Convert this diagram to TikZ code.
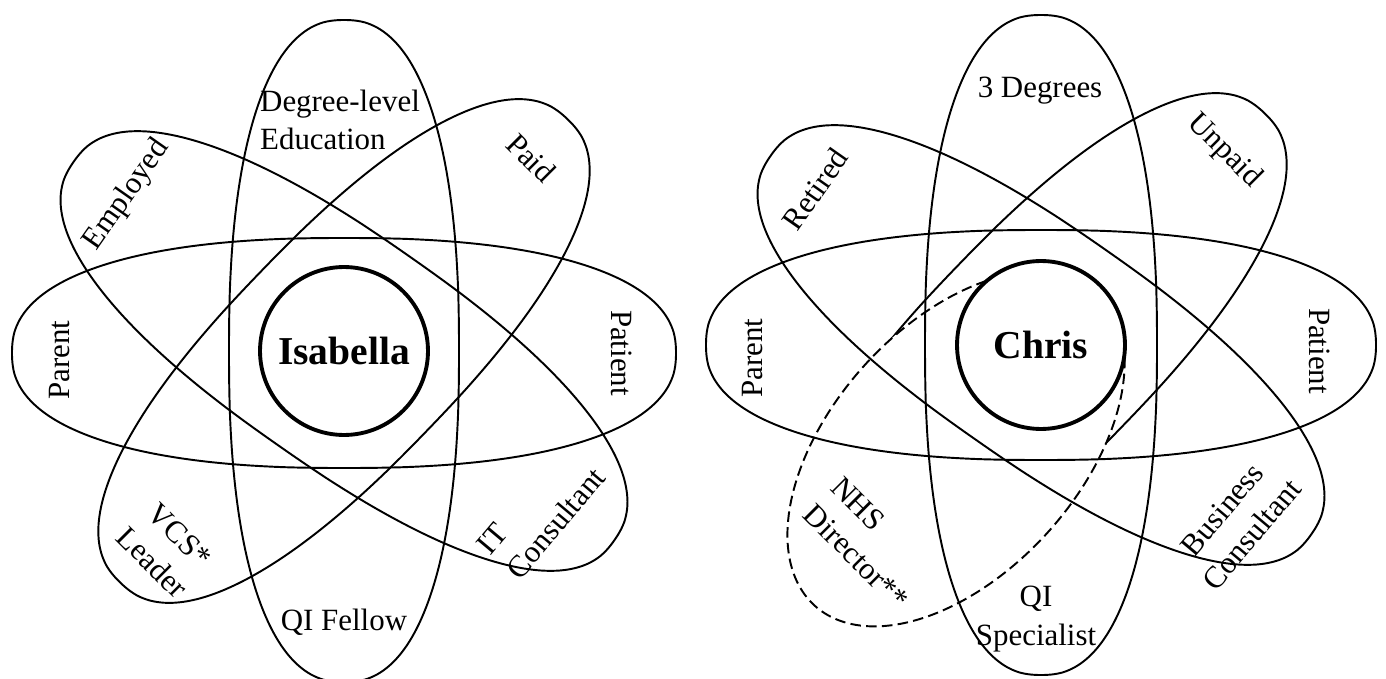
\documentclass[tikz,border=0pt]{standalone}
\usepackage{fontspec}
\setmainfont{Liberation Serif}
\tikzset{
  petalline/.style={draw, line width=1.1pt},
  extraline/.style={petalline, fill=white, dash pattern=on 6pt off 3pt},
  hub/.style={draw, circle, fill=white, line width=2.2pt, minimum size=3.36cm,
    inner sep=0pt, font=\fontsize{22.5}{26}\selectfont\bfseries},
  lbl/.style={font=\fontsize{17.6}{22}\selectfont, inner sep=0pt},
}
% a blunt oval: centre, angle, half length, half width, bluntness, style
\newcommand{\mypetal}[6]
{
\draw[#6, shift={(#1)}, rotate=#2]
  plot[smooth cycle, domain=1.5:358.5, samples=120]
  ({#3*(cos(\x)<0 ? -1 : 1)*abs(cos(\x))^#5},
   {#4*(sin(\x)<0 ? -1 : 1)*abs(sin(\x))^#5});
}

\begin{document}
\begin{tikzpicture}[x=0.02cm, y=-0.02cm]
  \useasboundingbox (0,0) rectangle (1386,679);
  \coordinate (cI) at (344,351);
  \coordinate (cC) at (1041,345);

  % Isabella
  \mypetal{344,353}{0}{332}{115}{0.85}{petalline}
  \mypetal{cI}{90}{331}{115}{0.85}{petalline}
  \mypetal{cI}{46}{322}{115}{0.85}{petalline}
  \mypetal{cI}{145}{330}{115}{0.85}{petalline}
  \node[hub] (Isabella) at (cI) {Isabella};

  \node[lbl, align=left] (Idegree) at (340,120) {Degree-level\\Education};
  \node[lbl, rotate=-45] (Ipaid) at (531,158) {Paid};
  \node[lbl, rotate=55] (Iemployed) at (127,195) {Employed};
  \node[lbl, rotate=90] (Iparent) at (60,360) {Parent};
  \node[lbl, rotate=-90] (Ipatient) at (622,353) {Patient};
  \node[lbl, rotate=-45, align=center] (Ivcs) at (166,549) {VCS*\\Leader};
  \node[lbl, rotate=50, align=left] (Iit) at (541,511) {IT\\Consultant};
  \node[lbl] (Iqi) at (344,622) {QI Fellow};

  % Chris
  \mypetal{cC}{46}{322}{115}{0.85}{petalline}
  \mypetal{956,449}{48}{211}{124}{1}{extraline}
  \mypetal{cC}{0}{335}{115}{0.85}{petalline}
  \mypetal{cC}{90}{330}{116}{0.85}{petalline}
  \mypetal{cC}{145}{330}{115}{0.85}{petalline}
  \node[hub] (Chris) at (cC) {Chris};

  \node[lbl] (Cdegrees) at (1040,91) {3 Degrees};
  \node[lbl, rotate=-45] (Cunpaid) at (1224,151) {Unpaid};
  \node[lbl, rotate=55] (Cretired) at (815,189) {Retired};
  \node[lbl, rotate=90] (Cparent) at (753,358) {Parent};
  \node[lbl, rotate=-90] (Cpatient) at (1320,351) {Patient};
  \node[lbl, rotate=-45, align=left] (Cnhs) at (870,543) {NHS\\Director**};
  \node[lbl, rotate=50, align=center] (Cbusiness) at (1237,522) {Business\\Consultant};
  \node[lbl, align=center] (Cqi) at (1036,619) {QI\\Specialist};
\end{tikzpicture}
\end{document}
